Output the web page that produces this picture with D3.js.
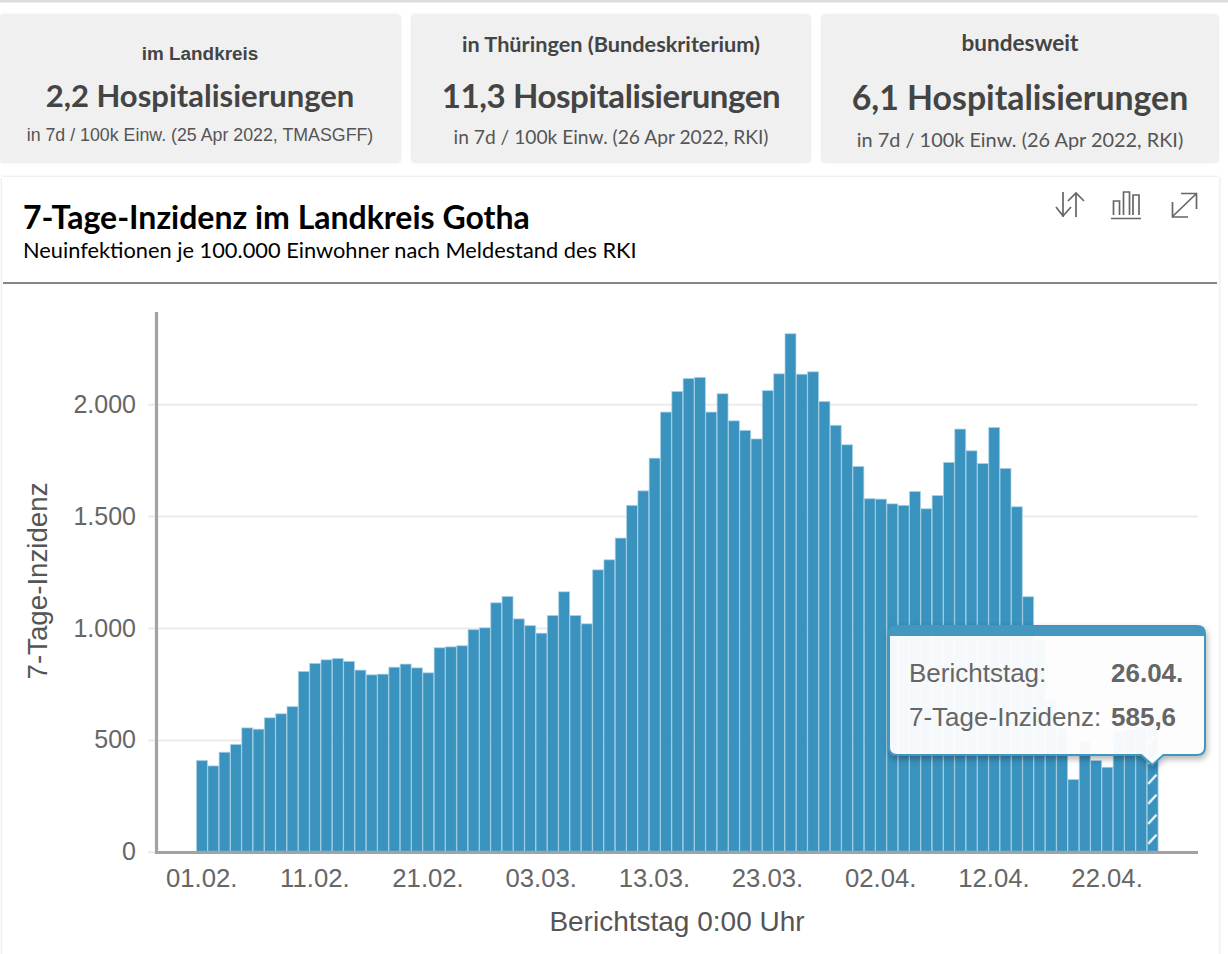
<!DOCTYPE html>
<html><head><meta charset="utf-8">
<script src="https://cdn.jsdelivr.net/npm/d3@7"></script>
<style>html,body{margin:0;padding:0;background:#fff}svg{display:block}text{font-family:Lato,sans-serif}.h{font-family:"Liberation Sans",Arial,sans-serif}</style>
</head><body><svg id="c" width="1228" height="954"></svg>
<script>
const categories = ["01.02.","02.02.","03.02.","04.02.","05.02.","06.02.","07.02.","08.02.","09.02.","10.02.","11.02.","12.02.","13.02.","14.02.","15.02.","16.02.","17.02.","18.02.","19.02.","20.02.","21.02.","22.02.","23.02.","24.02.","25.02.","26.02.","27.02.","28.02.","01.03.","02.03.","03.03.","04.03.","05.03.","06.03.","07.03.","08.03.","09.03.","10.03.","11.03.","12.03.","13.03.","14.03.","15.03.","16.03.","17.03.","18.03.","19.03.","20.03.","21.03.","22.03.","23.03.","24.03.","25.03.","26.03.","27.03.","28.03.","29.03.","30.03.","31.03.","01.04.","02.04.","03.04.","04.04.","05.04.","06.04.","07.04.","08.04.","09.04.","10.04.","11.04.","12.04.","13.04.","14.04.","15.04.","16.04.","17.04.","18.04.","19.04.","20.04.","21.04.","22.04.","23.04.","24.04.","25.04.","26.04."];
const incidence = [410,386,447,482,556,550,601,619,651,808,844,860,866,853,814,793,796,827,841,824,802,914,918,923,995,1003,1115,1143,1043,1013,979,1058,1164,1058,1021,1262,1307,1404,1550,1615,1761,1967,2059,2117,2122,1967,2049,1928,1885,1847,2063,2138,2317,2136,2147,2014,1908,1821,1724,1580,1578,1557,1550,1612,1535,1594,1742,1891,1794,1737,1898,1715,1544,1142,950,678,553,325,496,410,380,540,550,560,585.6];
const xTickLabels = ["01.02.","11.02.","21.02.","03.03.","13.03.","23.03.","02.04.","12.04.","22.04."];
const yTicks = [0,500,1000,1500,2000];
const cardTitles = ["im Landkreis","in Thüringen (Bundeskriterium)","bundesweit"];
const cardValues = ["2,2 Hospitalisierungen","11,3 Hospitalisierungen","6,1 Hospitalisierungen"];
const cardNotes = ["in 7d / 100k Einw. (25 Apr 2022, TMASGFF)","in 7d / 100k Einw. (26 Apr 2022, RKI)","in 7d / 100k Einw. (26 Apr 2022, RKI)"];
const tooltipRows = [["Berichtstag:","26.04."],["7-Tage-Inzidenz:","585,6"]];

const svg = d3.select("#c");
const defs = svg.append("defs");
const sh = defs.append("filter").attr("id","cardShadow").attr("x","-3%").attr("y","-5%").attr("width","106%").attr("height","110%");
sh.append("feDropShadow").attr("dx",0).attr("dy",0).attr("stdDeviation",1.6).attr("flood-color","#000").attr("flood-opacity",.16);
const ts = defs.append("filter").attr("id","tipShadow").attr("x","-5%").attr("y","-5%").attr("width","110%").attr("height","115%");
ts.append("feDropShadow").attr("dx",1).attr("dy",3).attr("stdDeviation",3).attr("flood-color","#000").attr("flood-opacity",.32);

svg.append("rect").attr("width",1228).attr("height",2.5).attr("fill","#dcdcdc");

// Summary cards
const cards = [
 {x:0,w:400,cx:200,ty:60,vy:107,ny:141,tf:"h",ts:18.9,vs:31,vl:0,ns:17.8,nf:"h"},
 {x:412,w:398,cx:611,ty:52,vy:108,ny:144,tf:"",ts:21.7,vs:33,vl:-.4,ns:19.2,nf:""},
 {x:822,w:396,cx:1020,ty:51,vy:110,ny:147,tf:"",ts:22.5,vs:33.8,vl:0,ns:19.9,nf:""}];
cards.forEach((c,i)=>{
  svg.append("rect").attr("x",c.x).attr("y",15).attr("width",c.w).attr("height",147).attr("rx",2).attr("fill","#f0f0f0").attr("filter","url(#cardShadow)");
  svg.append("text").attr("class",c.tf).attr("x",c.cx).attr("y",c.ty).attr("text-anchor","middle").attr("font-weight",700).attr("font-size",c.ts).attr("fill","#444").text(cardTitles[i]);
  svg.append("text").attr("x",c.cx).attr("y",c.vy).attr("text-anchor","middle").attr("font-weight",700).attr("font-size",c.vs).attr("letter-spacing",c.vl).attr("fill","#444").text(cardValues[i]);
  svg.append("text").attr("class",c.nf).attr("x",c.cx).attr("y",c.ny).attr("text-anchor","middle").attr("font-size",c.ns).attr("fill","#555").text(cardNotes[i]);
});

// Chart panel
svg.append("rect").attr("x",2).attr("y",177).attr("width",1217).attr("height",790).attr("fill","#fff").attr("filter","url(#cardShadow)");
svg.append("text").attr("x",23).attr("y",229).attr("font-weight",700).attr("font-size",32).attr("fill","#000").text("7-Tage-Inzidenz im Landkreis Gotha");
svg.append("text").attr("x",23).attr("y",258).attr("font-size",21.8).attr("fill","#000").text("Neuinfektionen je 100.000 Einwohner nach Meldestand des RKI");
svg.append("rect").attr("x",3).attr("y",282).attr("width",1214).attr("height",2).attr("fill","#858585");

// Icons
const ic = svg.append("g").attr("fill","none").attr("stroke","#666").attr("stroke-width",1.7);
["M1063 192V217M1056 207L1063 216L1071 207","M1076 217V193M1068 201L1076 193L1084 201",
 "M1111 218.5H1141M1113.5 215V201H1119.5V215M1123.5 215V192H1129.5V215M1133 215V195H1139V215",
 "M1172 217L1197 193M1181 193.5H1196.5V209M1172.5 202V217H1188"].forEach(d=>ic.append("path").attr("d",d));

// Scales
const x = d3.scaleBand().domain(categories).range([196,1158]).padding(0);
const y = d3.scaleLinear().domain([0,2000]).range([851.8,404.2]);

// Grid
const grid = svg.append("g").attr("transform","translate(1198,0)")
  .call(d3.axisLeft(y).tickValues(yTicks).tickSize(1050).tickFormat(""));
grid.select(".domain").remove();
grid.selectAll("line").attr("stroke","#ebebeb").attr("stroke-width",2);

// Hatch pattern for the last, incomplete bar
const bw = x.bandwidth();
const pat = defs.append("pattern").attr("id","hatch").attr("patternUnits","userSpaceOnUse").attr("width",bw).attr("height",20)
  .attr("patternTransform",`translate(${x(categories[84])},${y(0)-3})`);
pat.append("rect").attr("width",bw).attr("height",20).attr("fill","#3a92be");
pat.append("line").attr("x1",1.5).attr("x2",bw-1.5).attr("y1",15).attr("y2",6).attr("stroke","#fff").attr("stroke-width",2.1);

// Bars
svg.append("g").selectAll("rect").data(incidence).join("rect")
  .attr("x",(d,i)=>x(categories[i])+.5)
  .attr("y",d=>y(d)+.5)
  .attr("width",bw-.4)
  .attr("height",d=>y(0)-y(d)-1)
  .attr("fill",(d,i)=>i===84?"url(#hatch)":"#3a92be")
  .attr("stroke","#a9d2e6").attr("stroke-opacity",.7).attr("stroke-width",1);

// Axes
const xAxis = svg.append("g").attr("transform",`translate(0,${y(0)})`)
  .call(d3.axisBottom(x).tickValues(xTickLabels).tickSize(0).tickPadding(17));
xAxis.select(".domain").remove();
xAxis.selectAll("text").attr("class","h").attr("font-size",25.7).attr("fill","#666").attr("dy","0.71em");
const yAxis = svg.append("g").attr("transform","translate(136,0)")
  .call(d3.axisLeft(y).tickValues(yTicks).tickSize(0).tickPadding(0).tickFormat(d=>d3.format(",")(d).replace(",",".")));
yAxis.select(".domain").remove();
yAxis.selectAll("text").attr("class","h").attr("font-size",25).attr("fill","#666");
svg.append("path").attr("d","M156.5 312V852.5H1198").attr("fill","none").attr("stroke","#a2a2a2").attr("stroke-width",3.2);

svg.append("text").attr("class","h").attr("transform","translate(47,581) rotate(-90)").attr("text-anchor","middle").attr("font-size",27.7).attr("fill","#555").text("7-Tage-Inzidenz");
svg.append("text").attr("class","h").attr("x",677).attr("y",931).attr("text-anchor","middle").attr("font-size",28).attr("fill","#555").text("Berichtstag 0:00 Uhr");

// Tooltip
const tipX = x(categories[84])+bw/2;
const tip = svg.append("g");
const l=889,r=1205,t=626,b=755,rad=8;
tip.append("path").attr("d",`M${l+rad} ${t}H${r-rad}Q${r} ${t} ${r} ${t+rad}V${b-rad}Q${r} ${b} ${r-rad} ${b}H${tipX+11}L${tipX} ${b+10}L${tipX-11} ${b}H${l+rad}Q${l} ${b} ${l} ${b-rad}V${t+rad}Q${l} ${t} ${l+rad} ${t}Z`)
  .attr("fill","#fff").attr("fill-opacity",.95).attr("stroke","#4397c1").attr("stroke-width",2).attr("filter","url(#tipShadow)");
tip.append("path").attr("d",`M${l+rad} ${t}H${r-rad}Q${r} ${t} ${r} ${t+10}H${l}Q${l} ${t} ${l+rad} ${t}Z`).attr("fill","#4397c1");
tooltipRows.forEach((row,i)=>{
  const yy=682+i*44;
  tip.append("text").attr("class","h").attr("x",909).attr("y",yy).attr("font-size",26).attr("fill","#666").text(row[0]);
  tip.append("text").attr("class","h").attr("x",1111).attr("y",yy).attr("font-size",26).attr("font-weight",700).attr("fill","#666").text(row[1]);
});
</script></body></html>
